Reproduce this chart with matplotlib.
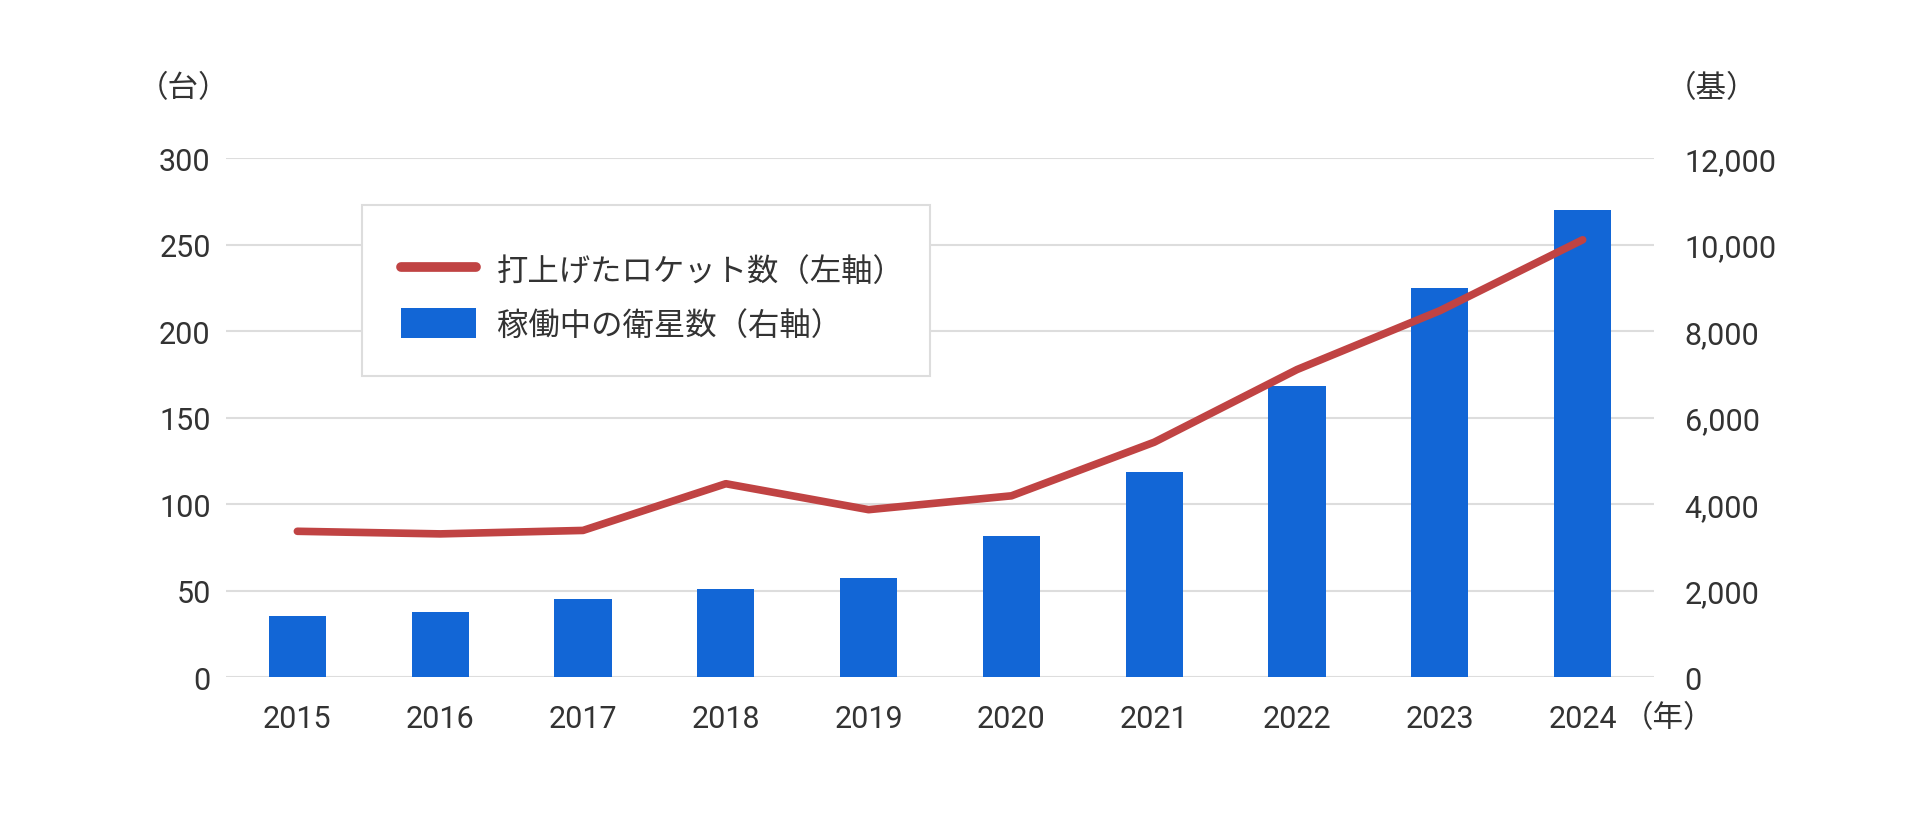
import matplotlib
matplotlib.use("Agg")
import matplotlib.pyplot as plt
import matplotlib.ticker as mticker
from matplotlib.lines import Line2D
from matplotlib.patches import Patch, Rectangle

# ─────────────────────────────────────────────
# DATA
# ─────────────────────────────────────────────
years = ['2015', '2016', '2017', '2018', '2019',
         '2020', '2021', '2022', '2023', '2024']
rockets = [84.5, 83, 85, 112, 97, 105, 136, 178, 212, 253]
satellites = [1420, 1510, 1815, 2040, 2300,
              3280, 4745, 6735, 9000, 10810]

rocket_label = '打上げたロケット数（左軸）'
sat_label = '稼働中の衛星数（右軸）'

# ─────────────────────────────────────────────
# STYLE
# ─────────────────────────────────────────────
plt.rcParams['font.family'] = ['Roboto', 'Noto Sans CJK JP', 'DejaVu Sans']
TEXT = '#333333'
RED = '#C04343'
BLUE = '#1266D6'
GRID = '#DDDDDD'
FS = 22
W, H = 1920, 820

fig = plt.figure(figsize=(W / 100, H / 100), dpi=100)
ax = fig.add_axes([0.1177, 0.1726, 0.7438, 0.6329])
ax2 = ax.twinx()

# bars on the secondary axis, drawn below the line axis
x = range(len(years))
ax2.bar(x, satellites, width=0.40, color=BLUE, zorder=2)
ax2.set_ylim(0, 12000)
ax2.yaxis.set_major_locator(mticker.MultipleLocator(2000))
ax2.yaxis.set_major_formatter(
    mticker.FuncFormatter(lambda v, p: f'{int(v):,}'))
ax2.grid(axis='y', color=GRID, linewidth=1.5, zorder=0)
ax2.set_axisbelow(True)

ax.plot(x, rockets, color=RED, linewidth=5.5,
        solid_capstyle='round', solid_joinstyle='round', zorder=3)
ax.set_ylim(0, 300)
ax.set_xlim(-0.5, len(years) - 0.5)
ax.yaxis.set_major_locator(mticker.MultipleLocator(50))
ax.set_xticks(list(x))
ax.set_xticklabels(years)
ax.grid(False)

ax.set_zorder(ax2.get_zorder() + 1)
ax.patch.set_visible(False)

for a in (ax, ax2):
    for s in a.spines.values():
        s.set_visible(False)
ax.tick_params(axis='both', length=0, labelsize=FS, colors=TEXT)
ax.tick_params(axis='y', pad=11)
ax.tick_params(axis='x', pad=19)
ax2.tick_params(axis='y', length=0, labelsize=FS, colors=TEXT, pad=22)

# unit labels
fig.text(183.5 / W, 1 - 89 / H, '（台）', ha='center', va='center',
         fontsize=FS, color=TEXT)
fig.text(1711.5 / W, 1 - 89 / H, '（基）', ha='center', va='center',
         fontsize=FS, color=TEXT)
fig.text(1669 / W, 1 - 719 / H, '（年）', ha='center', va='center',
         fontsize=FS, color=TEXT)

# legend: box drawn separately, entries placed inside it
box = Rectangle((362 / W, 1 - 377 / H), 568 / W, 171 / H,
                transform=fig.transFigure, facecolor='white',
                edgecolor=GRID, linewidth=1.5, zorder=5)
fig.patches.append(box)

handles = [
    Line2D([0], [0], color=RED, linewidth=7, solid_capstyle='round'),
    Patch(facecolor=BLUE, edgecolor='none'),
]
leg = fig.legend(
    handles, [rocket_label, sat_label],
    loc='center left', bbox_to_anchor=(401 / W, 1 - 298 / H),
    fontsize=22.6, frameon=False,
    handlelength=2.4, handleheight=1.1, handletextpad=0.65,
    labelspacing=0.72, borderpad=0, borderaxespad=0)
leg.set_zorder(6)
for t in leg.get_texts():
    t.set_color(TEXT)

plt.savefig('out.png', dpi=100, facecolor='white')
plt.close()
